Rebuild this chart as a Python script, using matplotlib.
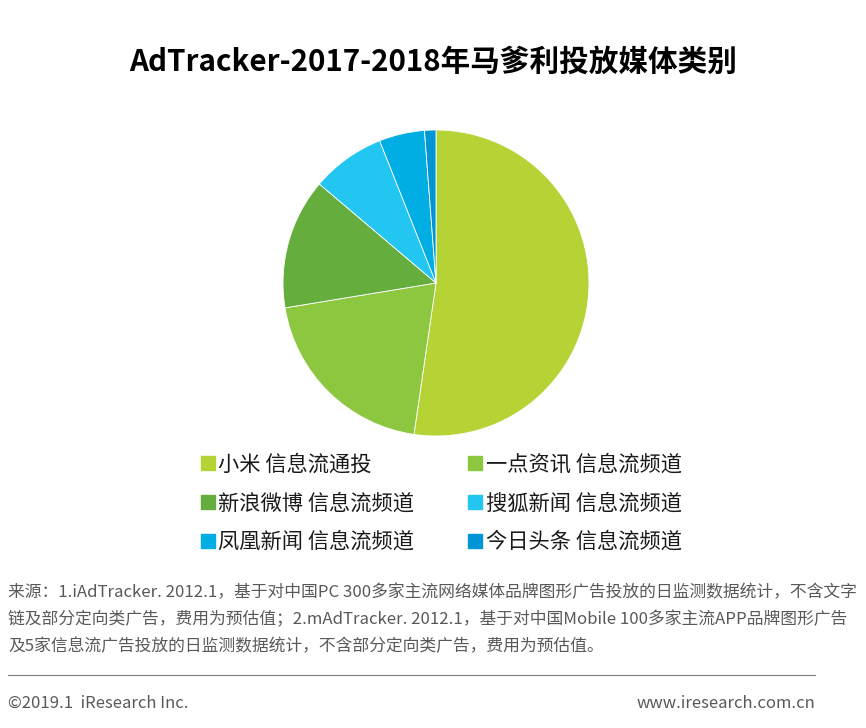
import matplotlib
matplotlib.use('Agg')
import matplotlib.pyplot as plt
from matplotlib.lines import Line2D

plt.rcParams['font.family'] = ['Noto Sans CJK SC', 'DejaVu Sans']

# data (share %, clockwise from 12 o'clock)
labels = ["小米 信息流通投", "一点资讯 信息流频道", "新浪微博 信息流频道",
          "搜狐新闻 信息流频道", "凤凰新闻 信息流频道", "今日头条 信息流频道"]
shares = [52.3, 20.1, 13.8, 7.8, 4.8, 1.2]
colors = ["#B5D334", "#8DC63F", "#65AE3D", "#22C6F0", "#00AEE4", "#0095D4"]

title = "AdTracker-2017-2018年马爹利投放媒体类别"
note = ("来源：1.iAdTracker. 2012.1，基于对中国PC 300多家主流网络媒体品牌图形广告投放的日监测数据统计，不含文字\n"
        "链及部分定向类广告，费用为预估值；2.mAdTracker. 2012.1，基于对中国Mobile 100多家主流APP品牌图形广告\n"
        "及5家信息流广告投放的日监测数据统计，不含部分定向类广告，费用为预估值。")

W, H = 866, 728
fig = plt.figure(figsize=(W / 100, H / 100), dpi=100)

# pie: centre (436, 283) px, radius 153 px
cx, cy, r = 436, 283, 153
ax = fig.add_axes([(cx - r) / W, (H - cy - r) / H, 2 * r / W, 2 * r / H])
wedges, _ = ax.pie(shares, colors=colors, startangle=90, counterclock=False,
                   wedgeprops=dict(edgecolor='white', linewidth=0.6))
ax.set_xlim(-1, 1)
ax.set_ylim(-1, 1)
ax.set_aspect('equal')

fig.text(0.5, (H - 62) / H, title, ha='center', va='center',
         fontsize=21.3, fontweight='bold', color='black')

# legend, row-wise order for two columns
order = [0, 2, 4, 1, 3, 5]
handles = [Line2D([], [], marker='s', linestyle='none', markersize=10,
                  markerfacecolor=colors[i], markeredgecolor=colors[i]) for i in order]
fig.legend(handles, [labels[i] for i in order], ncol=2, frameon=False,
           loc='upper left', bbox_to_anchor=(193 / W, (H - 445) / H),
           borderaxespad=0, fontsize=15.3, handlelength=0.6, handletextpad=0.2,
           columnspacing=2.55, labelspacing=0.79, labelcolor='#1a1a1a')

fig.text(8 / W, (H - 584) / H, note, ha='left', va='top', fontsize=12.1,
         color='#595959', linespacing=1.77)

fig.add_artist(Line2D([8 / W, 815 / W], [(H - 675) / H] * 2, color='#808080', linewidth=0.8))
fig.text(8 / W, (H - 703) / H, "©2019.1  iResearch Inc.", ha='left', va='center',
         fontsize=12, color='#595959')
fig.text(815 / W, (H - 703) / H, "www.iresearch.com.cn", ha='right', va='center',
         fontsize=12, color='#595959')

fig.savefig('out.png', dpi=100, facecolor='white')
